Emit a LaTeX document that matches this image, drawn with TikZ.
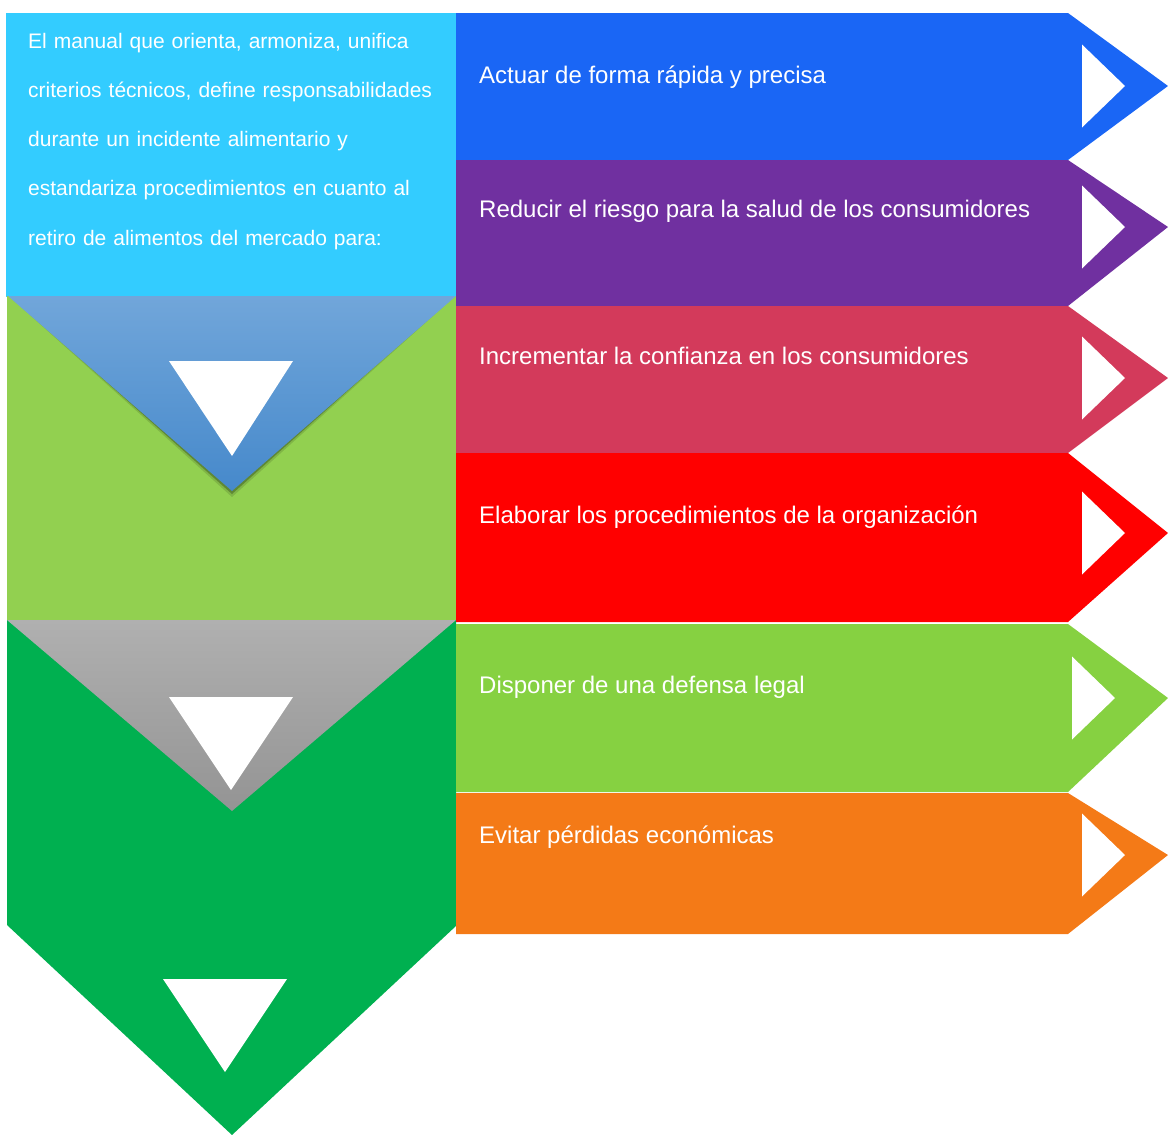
\documentclass[tikz,border=0pt]{standalone}
\usepackage{fontspec}
\setmainfont{Liberation Sans}
\usetikzlibrary{calc}
\definecolor{skyfill}{HTML}{33CCFF}
\definecolor{leaffill}{HTML}{92D050}
\definecolor{grassfill}{HTML}{00B050}
\definecolor{flaptop}{HTML}{71A6DA}
\definecolor{flapbottom}{HTML}{4689CB}
\definecolor{bluerow}{HTML}{1A66F5}
\definecolor{purplerow}{HTML}{7030A0}
\definecolor{rosered}{HTML}{D33A5B}
\definecolor{redrow}{HTML}{FF0000}
\definecolor{limerow}{HTML}{86D141}
\definecolor{orangerow}{HTML}{F47A17}
% chevron row: colour, top, bottom, tip y, left x of white triangle
\def\chevronrow[#1](#2:#3:#4:#5){\fill[#1] (456, #2) -- (1068, #2) -- (1168, #4) -- (1068, #3) -- (456, #3) -- cycle;
	\fill[white] (#5, #4-41.5) -- (#5+43, #4) -- (#5, #4+41.5) -- cycle;}

\begin{document}
\begin{tikzpicture}[x=1pt, y=-1pt,
		rowtext/.style={text=white, inner sep=0pt, anchor=base west, font=\fontsize{24}{28}\selectfont}]
			%%%%% START %%%%%
			
			\useasboundingbox (0, 0) rectangle (1168, 1135);
			
			\fill[skyfill] (6, 13) rectangle (456, 297);
			\fill[leaffill] (7, 296) rectangle (456, 620);
			
			\fill[black, opacity=0.12] (10, 297) -- (454, 297) -- (232, 497) -- cycle;
			\fill[black, opacity=0.25] (11, 297) -- (453, 297) -- (232, 494) -- cycle;
			\shade[top color=flaptop, bottom color=flapbottom] (8, 296) -- (456, 296) -- (232, 491) -- cycle;
			\fill[white] (169, 361) -- (293, 361) -- (232, 456) -- cycle;
			
			\fill[grassfill] (7, 620) -- (456, 620) -- (456, 926) -- (232, 1135) -- (7, 925) -- cycle;
			\shade[top color=black!31, bottom color=black!42] (7, 620) -- (456, 620) -- (232, 811) -- cycle;
			\fill[white] (169, 697) -- (293, 697) -- (231, 790) -- cycle;
			\fill[white] (163, 979) -- (287, 979) -- (225, 1072) -- cycle;
			
			\node[text=white, inner sep=0pt, anchor=base west, text width=430pt, align=left, font=\fontsize{21}{49.2}\selectfont] (intro) at (28, 48.3) {El manual que orienta, armoniza, unifica\\criterios técnicos, define responsabilidades\\durante un incidente alimentario y\\estandariza procedimientos en cuanto al\\retiro de alimentos del mercado para:};
			
			\chevronrow[bluerow](13:160:86:1082)
			\chevronrow[purplerow](160:306:227:1082)
			\chevronrow[rosered](306:453:378:1082)
			\chevronrow[redrow](453:622:533:1082)
			\chevronrow[limerow](624:792:698:1072)
			\chevronrow[orangerow](793:934:855:1082)
			
			\node[rowtext] (rapida) at (479, 83.3) {Actuar de forma rápida y precisa};
			\node[rowtext] (riesgo) at (479, 217.7) {Reducir el riesgo para la salud de los consumidores};
			\node[rowtext] (confianza) at (479, 364.3) {Incrementar la confianza en los consumidores};
			\node[rowtext] (procedimientos) at (479, 523.3) {Elaborar los procedimientos de la organización};
			\node[rowtext] (defensa) at (479, 693.3) {Disponer de una defensa legal};
			\node[rowtext] (perdidas) at (479, 843.3) {Evitar pérdidas económicas};
			
			%%%%% END %%%%%
		\end{tikzpicture}
\end{document}
